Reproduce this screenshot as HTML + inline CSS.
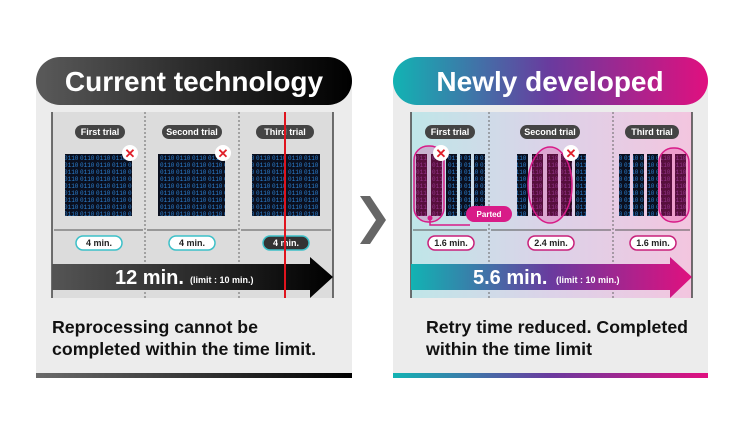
<!DOCTYPE html>
<html><head><meta charset="utf-8"><style>
body{margin:0;background:#fff;}
svg{display:block;font-family:"Liberation Sans",Arial,sans-serif;}
</style></head><body>
<svg width="740" height="440" viewBox="0 0 740 440" xmlns="http://www.w3.org/2000/svg">
<defs>
<linearGradient id="hdrL" x1="0" x2="1"><stop offset="0" stop-color="#5a5a5a"/><stop offset="0.5" stop-color="#2a2a2a"/><stop offset="1" stop-color="#000"/></linearGradient>
<linearGradient id="hdrR" x1="0" x2="1"><stop offset="0" stop-color="#12b3b3"/><stop offset="0.5" stop-color="#6a3a9e"/><stop offset="1" stop-color="#e0107f"/></linearGradient>
<linearGradient id="barL" x1="0" x2="1"><stop offset="0" stop-color="#6a6a6a"/><stop offset="1" stop-color="#000"/></linearGradient>
<linearGradient id="arrL" x1="0" x2="1"><stop offset="0" stop-color="#555"/><stop offset="1" stop-color="#000"/></linearGradient>
<linearGradient id="bgR" x1="0" x2="1"><stop offset="0" stop-color="#bfe6e8"/><stop offset="0.5" stop-color="#dcd2e8"/><stop offset="1" stop-color="#f3c5df"/></linearGradient>
<pattern id="bin" width="16" height="7" patternUnits="userSpaceOnUse"><rect width="16" height="7" fill="#0a0f1e"/><text x="0" y="6" font-size="6" fill="#2a7fd0" font-family="Liberation Mono">0110</text></pattern>
<pattern id="binP" width="16" height="7" patternUnits="userSpaceOnUse"><rect width="16" height="7" fill="#2a0a22"/><text x="0" y="6" font-size="6" fill="#7a3a8a" font-family="Liberation Mono">0110</text></pattern>
</defs>

<!-- LEFT PANEL -->
<rect x="36" y="78" width="316" height="298" fill="#ececec"/>
<rect x="52" y="112" width="281" height="186" fill="#dcdcdc"/>
<rect x="36" y="57" width="316" height="48" rx="24" fill="url(#hdrL)"/>
<text x="194" y="91" font-size="28" font-weight="bold" fill="#fff" text-anchor="middle">Current technology</text>
<line x1="52" y1="112" x2="52" y2="298" stroke="#444" stroke-width="1.5"/>
<line x1="333" y1="112" x2="333" y2="298" stroke="#444" stroke-width="1.5"/>
<line x1="145" y1="112" x2="145" y2="298" stroke="#666" stroke-dasharray="2,2"/>
<line x1="239" y1="112" x2="239" y2="298" stroke="#666" stroke-dasharray="2,2"/>
<g font-size="9" font-weight="bold" fill="#fff" text-anchor="middle">
<rect x="75" y="125" width="50" height="14" rx="7" fill="#444"/><text x="100" y="135">First trial</text>
<rect x="162" y="125" width="60" height="14" rx="7" fill="#444"/><text x="192" y="135">Second trial</text>
<rect x="256" y="125" width="58" height="14" rx="7" fill="#444"/><text x="285" y="135">Third trial</text>
</g>
<rect x="65" y="154" width="67" height="62" fill="url(#bin)"/>
<rect x="158" y="154" width="67" height="62" fill="url(#bin)"/>
<rect x="252" y="154" width="68" height="62" fill="url(#bin)"/>
<g><circle cx="130" cy="153" r="8" fill="#fff"/><text x="130" y="158" font-size="13" font-weight="bold" fill="#e0202a" text-anchor="middle">✕</text></g>
<g><circle cx="223" cy="153" r="8" fill="#fff"/><text x="223" y="158" font-size="13" font-weight="bold" fill="#e0202a" text-anchor="middle">✕</text></g>
<g stroke="#555" stroke-width="1" fill="#555">
<line x1="54" y1="230" x2="143" y2="230"/><line x1="147" y1="230" x2="237" y2="230"/><line x1="241" y1="230" x2="331" y2="230"/>
</g>
<g font-size="9" font-weight="bold" text-anchor="middle">
<rect x="76" y="236" width="46" height="14" rx="7" fill="#fff" stroke="#3cc0c8" stroke-width="1.5"/><text x="99" y="246" fill="#222">4 min.</text>
<rect x="169" y="236" width="46" height="14" rx="7" fill="#fff" stroke="#3cc0c8" stroke-width="1.5"/><text x="192" y="246" fill="#222">4 min.</text>
<rect x="263" y="236" width="46" height="14" rx="7" fill="#333" stroke="#3cc0c8" stroke-width="1.5"/><text x="286" y="246" fill="#fff">4 min.</text>
</g>
<polygon points="52,264 310,264 310,257 333,277 310,298 310,290 52,290" fill="url(#arrL)"/>
<text x="115" y="284" font-size="20" font-weight="bold" fill="#fff">12 min.</text>
<text x="190" y="283" font-size="9" font-weight="bold" fill="#fff">(limit : 10 min.)</text>
<line x1="285" y1="112" x2="285" y2="298" stroke="#e0141e" stroke-width="2"/>
<text x="52" y="333" font-size="17.5" font-weight="bold" fill="#111" textLength="206" lengthAdjust="spacingAndGlyphs">Reprocessing cannot be</text>
<text x="52" y="355" font-size="17.5" font-weight="bold" fill="#111" textLength="264" lengthAdjust="spacingAndGlyphs">completed within the time limit.</text>
<rect x="36" y="373" width="316" height="5" fill="url(#barL)"/>

<!-- middle chevron -->
<polygon points="360,196 370,196 386,220 370,244 360,244 376,220" fill="#666"/>

<!-- RIGHT PANEL -->
<rect x="393" y="78" width="315" height="298" fill="#ececec"/>
<rect x="411" y="112" width="281" height="186" fill="url(#bgR)"/>
<rect x="393" y="57" width="315" height="48" rx="24" fill="url(#hdrR)"/>
<text x="550" y="91" font-size="28" font-weight="bold" fill="#fff" text-anchor="middle">Newly developed</text>
<line x1="411" y1="112" x2="411" y2="298" stroke="#444" stroke-width="1.5"/>
<line x1="692" y1="112" x2="692" y2="298" stroke="#444" stroke-width="1.5"/>
<line x1="489" y1="112" x2="489" y2="298" stroke="#666" stroke-dasharray="2,2"/>
<line x1="613" y1="112" x2="613" y2="298" stroke="#666" stroke-dasharray="2,2"/>
<g font-size="9" font-weight="bold" fill="#fff" text-anchor="middle">
<rect x="425" y="125" width="50" height="14" rx="7" fill="#444"/><text x="450" y="135">First trial</text>
<rect x="520" y="125" width="60" height="14" rx="7" fill="#444"/><text x="550" y="135">Second trial</text>
<rect x="625" y="125" width="54" height="14" rx="7" fill="#444"/><text x="652" y="135">Third trial</text>
</g>
<g>
<rect x="416" y="154" width="11" height="62" fill="url(#binP)"/><rect x="431" y="154" width="11" height="62" fill="url(#binP)"/><rect x="446" y="154" width="11" height="62" fill="url(#bin)"/><rect x="460" y="154" width="11" height="62" fill="url(#bin)"/><rect x="474" y="154" width="11" height="62" fill="url(#bin)"/>
<rect x="517" y="154" width="11" height="62" fill="url(#bin)"/><rect x="532" y="154" width="11" height="62" fill="url(#binP)"/><rect x="547" y="154" width="11" height="62" fill="url(#binP)"/><rect x="561" y="154" width="11" height="62" fill="url(#binP)"/><rect x="575" y="154" width="11" height="62" fill="url(#bin)"/>
<rect x="619" y="154" width="11" height="62" fill="url(#bin)"/><rect x="633" y="154" width="11" height="62" fill="url(#bin)"/><rect x="647" y="154" width="11" height="62" fill="url(#bin)"/><rect x="661" y="154" width="11" height="62" fill="url(#binP)"/><rect x="675" y="154" width="11" height="62" fill="url(#binP)"/>
</g>
<g fill="#e0208a" fill-opacity="0.25" stroke="#d81b88" stroke-width="1.5">
<rect x="414" y="146" width="30" height="76" rx="14"/>
<ellipse cx="550" cy="185" rx="22" ry="38"/>
<rect x="659" y="148" width="30" height="74" rx="14"/>
</g>
<path d="M430,218 L430,225 L470,225" stroke="#d81b88" stroke-width="1.5" fill="none"/>
<circle cx="430" cy="218" r="2.5" fill="#d81b88"/>
<rect x="466" y="206" width="46" height="16" rx="8" fill="#d81b88"/>
<text x="489" y="217" font-size="8" font-weight="bold" fill="#fff" text-anchor="middle">Parted</text>
<g><circle cx="441" cy="153" r="8" fill="#fff"/><text x="441" y="158" font-size="13" font-weight="bold" fill="#e0202a" text-anchor="middle">✕</text></g>
<g><circle cx="571" cy="153" r="8" fill="#fff"/><text x="571" y="158" font-size="13" font-weight="bold" fill="#e0202a" text-anchor="middle">✕</text></g>
<g stroke="#555" stroke-width="1">
<line x1="413" y1="230" x2="487" y2="230"/><line x1="491" y1="230" x2="611" y2="230"/><line x1="615" y1="230" x2="690" y2="230"/>
</g>
<g font-size="9" font-weight="bold" text-anchor="middle" fill="#222">
<rect x="428" y="236" width="46" height="14" rx="7" fill="#fff" stroke="#c8207a" stroke-width="1.5"/><text x="451" y="246">1.6 min.</text>
<rect x="528" y="236" width="46" height="14" rx="7" fill="#fff" stroke="#c8207a" stroke-width="1.5"/><text x="551" y="246">2.4 min.</text>
<rect x="630" y="236" width="46" height="14" rx="7" fill="#fff" stroke="#c8207a" stroke-width="1.5"/><text x="653" y="246">1.6 min.</text>
</g>
<polygon points="411,264 670,264 670,257 692,277 670,298 670,290 411,290" fill="url(#hdrR)"/>
<text x="473" y="284" font-size="20" font-weight="bold" fill="#fff">5.6 min.</text>
<text x="556" y="283" font-size="9" font-weight="bold" fill="#fff">(limit : 10 min.)</text>
<text x="426" y="333" font-size="17.5" font-weight="bold" fill="#111" textLength="262" lengthAdjust="spacingAndGlyphs">Retry time reduced. Completed</text>
<text x="426" y="355" font-size="17.5" font-weight="bold" fill="#111" textLength="166" lengthAdjust="spacingAndGlyphs">within the time limit</text>
<rect x="393" y="373" width="315" height="5" fill="url(#hdrR)"/>
</svg>
</body></html>
